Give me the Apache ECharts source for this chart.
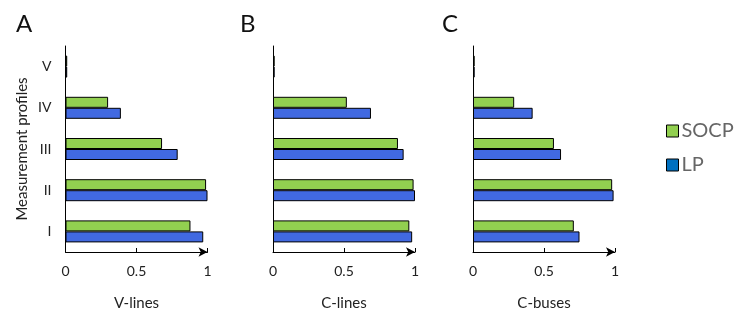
<!DOCTYPE html>
<html><head><meta charset="utf-8">
<script src="https://cdn.jsdelivr.net/npm/echarts@6/dist/echarts.min.js"></script>
<style>html,body{margin:0;padding:0;background:#fff}#c{width:747px;height:316px}</style>
</head><body><div id="c"></div>
<script>
const categories = ['I', 'II', 'III', 'IV', 'V'];
const panelLabels = ['A', 'B', 'C'];
const panelNames = ['V-lines', 'C-lines', 'C-buses'];
const socpA = [0.88, 0.99, 0.68, 0.30, 0.012];
const lpA   = [0.97, 1.00, 0.79, 0.39, 0.012];
const socpB = [0.96, 0.99, 0.88, 0.52, 0.012];
const lpB   = [0.98, 1.00, 0.92, 0.69, 0.012];
const socpC = [0.71, 0.98, 0.57, 0.29, 0.012];
const lpC   = [0.75, 0.99, 0.62, 0.42, 0.012];
const xTicks = [0, 0.5, 1];

const socpSets = [socpA, socpB, socpC];
const lpSets = [lpA, lpB, lpC];
const FONT = 'Lato';
const gridLefts = [65.5, 273, 473];
const titleLefts = [11, 235, 437];

const chart = echarts.init(document.getElementById('c'));
const grids = [], xAxes = [], yAxes = [], series = [], titles = [];
for (let i = 0; i < 3; i++) {
  grids.push({left: gridLefts[i], top: 46, width: 142, height: 210, containLabel: false});
  titles.push({text: panelLabels[i], left: titleLefts[i], top: 7,
    textStyle: {fontFamily: FONT, fontSize: 24, fontWeight: 'normal', color: '#111'}});
  xAxes.push({type: 'value', gridIndex: i, min: xTicks[0], max: xTicks[xTicks.length - 1], interval: 0.5,
    name: panelNames[i], nameLocation: 'middle', nameGap: 44,
    nameTextStyle: {fontFamily: FONT, fontSize: 15, color: '#222'},
    axisLine: {show: true, lineStyle: {color: '#000', width: 1}, symbol: ['none', 'arrow'], symbolSize: [7, 9]},
    axisTick: {show: true, inside: true, length: 4, lineStyle: {color: '#000'}},
    axisLabel: {fontFamily: FONT, fontSize: 14, color: '#222', margin: 12},
    splitLine: {show: false}});
  yAxes.push({type: 'category', gridIndex: i, data: categories,
    name: i === 0 ? 'Measurement profiles' : '', nameLocation: 'middle', nameGap: 36, nameRotate: 90,
    nameTextStyle: {fontFamily: FONT, fontSize: 15, color: '#222'},
    axisLine: {show: true, lineStyle: {color: '#000', width: 1}},
    axisTick: {show: false},
    axisLabel: {show: i === 0, fontFamily: FONT, fontSize: 14, color: '#222', margin: 14}});
  series.push({name: 'SOCP', type: 'bar', xAxisIndex: i, yAxisIndex: i, data: socpSets[i],
    barWidth: 11, barGap: '0%', itemStyle: {color: '#92d050', borderColor: '#000', borderWidth: 1}});
  series.push({name: 'LP', type: 'bar', xAxisIndex: i, yAxisIndex: i, data: lpSets[i],
    barWidth: 11, barGap: '0%', itemStyle: {color: '#4169e1', borderColor: '#000', borderWidth: 1}});
}

chart.setOption({
  animation: false,
  title: titles,
  grid: grids,
  xAxis: xAxes,
  yAxis: yAxes,
  legend: {
    orient: 'vertical', left: 661, top: 116, itemWidth: 12, itemHeight: 12, itemGap: 14,
    icon: 'rect',
    textStyle: {fontFamily: FONT, fontSize: 20, color: '#666', padding: [0, 0, 0, -2]},
    data: [
      {name: 'SOCP', itemStyle: {color: '#92d050', borderColor: '#000', borderWidth: 1}},
      {name: 'LP', itemStyle: {color: '#0070c0', borderColor: '#000', borderWidth: 1}}
    ]
  },
  series: series
});
</script></body></html>
